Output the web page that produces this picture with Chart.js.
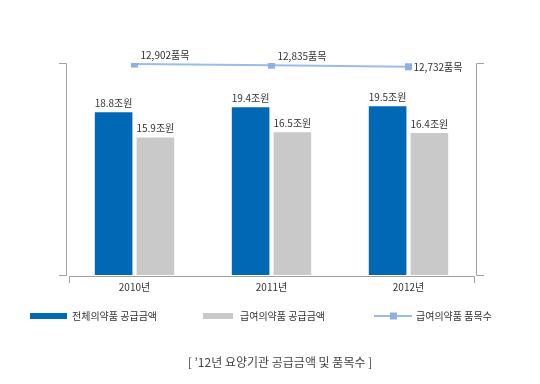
<!DOCTYPE html>
<html>
<head>
<meta charset="utf-8">
<script src="https://cdn.jsdelivr.net/npm/chart.js@4/dist/chart.umd.min.js"></script>
<style>
  html, body { margin: 0; padding: 0; background: #fff; }
  #wrap { width: 540px; height: 384px; position: relative; }
</style>
</head>
<body>
<div id="wrap"><canvas id="myChart" width="540" height="384"></canvas></div>
<script>
var anos = ["2010년", "2011년", "2012년"]
var total = [18.8, 19.4, 19.5]
var gwageup = [15.9, 16.5, 16.4]
var pummok = [12902, 12835, 12732]
var nomes = ["전체의약품 공급금액", "급여의약품 공급금액", "급여의약품 품목수"]
var titulo = "[ ’12년 요양기관 공급금액 및 품목수 ]"

var azul = "#0068b5"
var cinza = "#c9c9c9"
var azulClaro = "#9cbbe8"
var fonte = "'Noto Sans CJK KR', 'Noto Sans', sans-serif"

function numero(v) {
  return v.toString().replace(/\B(?=(\d{3})+(?!\d))/g, ",")
}

// eixos em colchete, rotulos de categoria, rotulos de dados, legenda e titulo
var desenho = {
  id: "desenho",
  afterDatasetsDraw: function (chart) {
    var ctx = chart.ctx
    var a = chart.chartArea
    var x = chart.scales.x
    ctx.save()
    ctx.strokeStyle = "#a0a0a0"
    ctx.lineWidth = 1
    ctx.beginPath()
    // eixo esquerdo
    ctx.moveTo(a.left - 7, a.top + 0.5); ctx.lineTo(a.left + 0.5, a.top + 0.5)
    ctx.lineTo(a.left + 0.5, a.bottom + 0.5); ctx.lineTo(a.left - 7, a.bottom + 0.5)
    // eixo direito
    ctx.moveTo(a.right + 7, a.top + 0.5); ctx.lineTo(a.right - 0.5, a.top + 0.5)
    ctx.lineTo(a.right - 0.5, a.bottom + 0.5); ctx.lineTo(a.right + 7, a.bottom + 0.5)
    // eixo x
    ctx.moveTo(a.left + 3.5, a.bottom + 8); ctx.lineTo(a.left + 3.5, a.bottom + 1.5)
    ctx.lineTo(a.right - 2.5, a.bottom + 1.5); ctx.lineTo(a.right - 2.5, a.bottom + 8)
    ctx.stroke()

    ctx.fillStyle = "#333"
    ctx.font = "10px " + fonte
    ctx.textAlign = "center"
    ctx.textBaseline = "middle"
    anos.forEach(function (ano, i) {
      ctx.fillText(ano, x.getPixelForTick(i), a.bottom + 12)
    })

    // rotulos das barras
    ;[0, 1].forEach(function (d) {
      var meta = chart.getDatasetMeta(d)
      meta.data.forEach(function (bar, i) {
        var v = chart.data.datasets[d].data[i]
        ctx.fillText(v.toFixed(1) + "조원", bar.x, bar.y - 9)
      })
    })

    // rotulos da linha
    var metaL = chart.getDatasetMeta(2)
    ctx.textAlign = "left"
    metaL.data.forEach(function (p, i) {
      var t = numero(pummok[i]) + "품목"
      if (i == pummok.length - 1) ctx.fillText(t, p.x + 5, p.y)
      else ctx.fillText(t, p.x + 6, p.y - 9)
    })

    // legenda
    var ly = 316
    ctx.fillStyle = azul
    ctx.fillRect(30, ly - 3, 37, 6)
    ctx.fillStyle = cinza
    ctx.fillRect(203, ly - 3, 30, 6)
    ctx.strokeStyle = azulClaro
    ctx.lineWidth = 2
    ctx.beginPath(); ctx.moveTo(374, ly); ctx.lineTo(412, ly); ctx.stroke()
    ctx.fillStyle = "#8fb0e2"
    ctx.fillRect(390, ly - 3.5, 7, 7)
    ctx.fillStyle = "#333"
    ctx.font = "10px " + fonte
    ctx.fillText(nomes[0], 72, ly)
    ctx.fillText(nomes[1], 240, ly)
    ctx.fillText(nomes[2], 416, ly)

    // titulo
    ctx.textAlign = "center"
    ctx.fillStyle = "#444"
    ctx.font = "12px " + fonte
    ctx.fillText(titulo, 280, 362)
    ctx.restore()
  }
}

var ctx = document.getElementById("myChart").getContext("2d")
var myChart = new Chart(ctx, {
  type: "bar",
  data: {
    labels: anos,
    datasets: [
      {
        label: nomes[0],
        data: total,
        backgroundColor: azul,
        yAxisID: "y",
        order: 2,
        categoryPercentage: 0.61,
        barPercentage: 0.9,
      },
      {
        label: nomes[1],
        data: gwageup,
        backgroundColor: cinza,
        yAxisID: "y",
        order: 2,
        categoryPercentage: 0.61,
        barPercentage: 0.9,
      },
      {
        type: "line",
        label: nomes[2],
        data: pummok,
        borderColor: azulClaro,
        borderWidth: 2,
        backgroundColor: "#8fb0e2",
        pointBackgroundColor: "#8fb0e2",
        pointBorderWidth: 0,
        pointStyle: "rect",
        pointRadius: 5,
        yAxisID: "y1",
        order: 1,
      },
    ],
  },
  options: {
    responsive: false,
    animation: false,
    layout: { padding: { left: 66, right: 63, top: 63, bottom: 109 } },
    plugins: { legend: { display: false }, tooltip: { enabled: false } },
    scales: {
      x: { display: false },
      y: { display: false, min: 0, max: 24.5 },
      y1: { display: false, min: 0, max: 12965, position: "right" },
    },
  },
  plugins: [desenho],
})
</script>
</body>
</html>
